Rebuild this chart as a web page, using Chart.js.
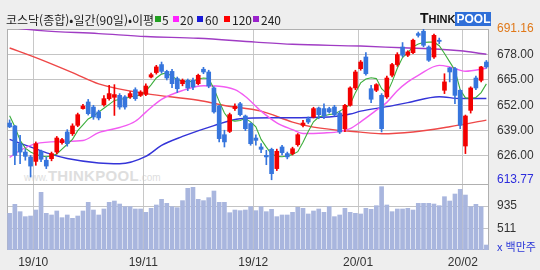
<!DOCTYPE html>
<html lang="ko">
<head>
<meta charset="utf-8">
<script src="https://cdn.jsdelivr.net/npm/chart.js@4.4.1/dist/chart.umd.min.js"></script>
<style>
  body { margin: 0; background: #eeeeee; }
  #wrap { position: relative; width: 540px; height: 270px; overflow: hidden; background: #eeeeee;
          font-family: "Noto Sans CJK KR", "Noto Sans", sans-serif; color: #222; }
  #plotbg { position: absolute; left: 7px; top: 29px; width: 482px; height: 221px; background: #fff; }
  #wm { position: absolute; left: 24px; top: 167px; color: #dedede; white-space: nowrap;
        font-family: "Liberation Sans", sans-serif; }
  #wm .big { font-weight: bold; font-size: 15px; letter-spacing: 0.3px; }
  #wm .sm { font-size: 10px; }
  canvas { position: absolute; left: 0; top: 0; }
  .t { position: absolute; top: 12px; font-size: 12px; line-height: 16px; white-space: nowrap; }
  .sq { position: absolute; top: 16px; width: 6px; height: 6px; }
  #logo { position: absolute; left: 420px; top: 12px; white-space: nowrap; font-family: "Liberation Sans", sans-serif;
          font-weight: bold; line-height: 12px; }
  #logo .k { color: #111; }
  #logo .p { background: #2f6fd8; color: #fff; font-size: 12px; padding: 0 1px; }
  #unit { position: absolute; left: 497px; top: 238px; font-size: 11px; color: #2a36d8; white-space: nowrap; }
</style>
</head>
<body>
<div id="wrap">
  <div id="plotbg"></div>
  <div id="wm"><span class="sm">www.</span><span class="big">THINKPOOL</span><span class="sm">.com</span></div>
  <canvas id="c" width="540" height="270"></canvas>
  <div class="t" style="left:6px">코스닥(종합)•일간(90일)•이평</div>
  <div class="sq" style="left:155px;background:#22a022"></div><div class="t" style="left:162px">5</div>
  <div class="sq" style="left:173px;background:#ff22ff"></div><div class="t" style="left:180px">20</div>
  <div class="sq" style="left:197px;background:#1a1ad8"></div><div class="t" style="left:205px">60</div>
  <div class="sq" style="left:224px;background:#ff0000"></div><div class="t" style="left:232px">120</div>
  <div class="sq" style="left:253px;background:#9a22cc"></div><div class="t" style="left:261px">240</div>
  <div id="logo"><span class="k" style="font-size:14px">T</span><span class="k" style="font-size:11px">HINK</span><span class="p">POOL</span></div>
  <div id="unit">x 백만주</div>
</div>
<script>
var monthNames = ["19/09", "19/10", "19/11", "19/12", "20/01", "20/02"];
var tradingDays = [
    [24, 25, 26, 27, 30],
    [1, 2, 4, 7, 8, 10, 11, 14, 15, 16, 17, 18, 21, 22, 23, 24, 25, 28, 29, 30, 31],
    [1, 4, 5, 6, 7, 8, 11, 12, 13, 14, 15, 18, 19, 20, 21, 22, 25, 26, 27, 28, 29],
    [2, 3, 4, 5, 6, 9, 10, 11, 12, 13, 16, 17, 18, 19, 20, 23, 24, 26, 27, 30],
    [2, 3, 6, 7, 8, 9, 10, 13, 14, 15, 16, 17, 20, 21, 22, 23, 28, 29, 30, 31],
    [3, 4, 5, 6, 7]
];

var opens = [642.9, 641.4, 632.3, 628.0, 625.5, 623.2, 628.4, 623.8, 624.6, 628.0,
    632.8, 638.3, 637.4, 641.7, 650.3, 653.7, 651.1, 648.6, 652.3, 655.4,
    656.1, 657.1, 656.3, 656.3, 660.0, 657.1, 657.6, 666.5, 668.8, 672.9,
    669.4, 669.4, 665.7, 663.1, 664.8, 664.8, 663.1, 670.5, 669.1, 660.9,
    651.6, 636.9, 638.6, 650.3, 652.8, 646.5, 642.6, 635.2, 630.6, 626.3,
    629.4, 619.5, 630.6, 627.2, 627.2, 631.8, 641.7, 645.1, 646.0, 650.6,
    650.3, 650.3, 651.1, 648.0, 639.9, 652.0, 660.9, 670.8, 676.8, 660.5,
    659.7, 657.1, 656.3, 667.4, 672.9, 681.9, 677.7, 679.0, 688.8, 690.0,
    681.9, 676.8, 685.4, 659.7, 671.2, 670.8, 659.7, 631.1, 649.4, 666.0,
    664.8, 674.2];
var highs = [644.5, 641.7, 636.6, 629.4, 626.3, 633.2, 629.0, 625.5, 628.0, 636.0,
    635.0, 639.5, 642.5, 648.0, 652.5, 655.0, 652.0, 649.5, 657.0, 662.3,
    662.6, 658.0, 657.0, 659.0, 661.0, 659.5, 663.0, 668.5, 672.5, 674.2,
    670.0, 670.5, 666.5, 665.5, 665.5, 666.0, 668.0, 671.5, 670.0, 661.5,
    652.0, 639.2, 648.0, 652.8, 653.5, 647.0, 643.0, 636.9, 632.3, 628.9,
    630.0, 629.5, 631.5, 628.0, 630.5, 637.5, 644.3, 646.0, 651.0, 651.1,
    652.8, 651.0, 652.0, 649.0, 652.5, 661.5, 670.0, 675.0, 679.0, 662.3,
    663.1, 658.0, 667.0, 673.5, 679.0, 684.2, 680.0, 686.0, 689.6, 691.16,
    682.5, 688.5, 686.5, 668.2, 671.5, 671.5, 660.0, 647.0, 661.5, 667.0,
    672.0, 675.0];
var lows = [640.5, 621.5, 622.0, 623.8, 615.2, 621.2, 623.0, 619.5, 623.5, 627.0,
    632.0, 631.0, 636.5, 641.0, 650.0, 647.0, 644.8, 644.5, 651.5, 654.6,
    646.8, 650.0, 650.0, 655.5, 654.5, 656.5, 657.0, 666.0, 668.0, 668.5,
    665.0, 661.0, 658.5, 662.0, 659.5, 660.0, 662.5, 668.2, 661.0, 648.0,
    633.2, 630.6, 638.0, 649.4, 646.5, 639.0, 631.5, 631.5, 627.7, 621.5,
    613.77, 618.5, 626.5, 624.5, 626.5, 631.0, 640.9, 642.6, 645.5, 645.1,
    645.1, 648.0, 646.5, 637.5, 638.5, 651.5, 660.0, 670.0, 667.5, 653.4,
    659.0, 638.3, 655.5, 666.5, 672.0, 676.8, 677.0, 678.5, 687.0, 682.0,
    674.5, 676.0, 683.6, 658.0, 664.0, 652.8, 640.0, 627.2, 648.0, 660.0,
    664.0, 671.0];
var closes = [640.9, 626.3, 628.0, 625.8, 620.8, 632.3, 624.3, 620.8, 627.2, 635.2,
    634.4, 632.3, 641.4, 647.2, 651.6, 647.7, 646.0, 645.5, 655.4, 658.0,
    657.5, 651.1, 651.1, 658.0, 655.4, 658.8, 661.9, 667.7, 671.7, 669.4,
    666.0, 663.1, 660.5, 664.8, 660.9, 661.4, 667.4, 669.1, 661.9, 648.6,
    634.9, 633.2, 647.2, 651.5, 647.2, 640.0, 632.3, 634.0, 629.4, 625.5,
    616.9, 628.4, 627.7, 625.5, 629.7, 636.9, 642.9, 643.4, 650.3, 647.2,
    646.5, 648.6, 647.2, 638.3, 652.0, 660.9, 669.1, 674.2, 668.2, 655.1,
    662.6, 640.0, 666.0, 672.9, 678.0, 677.7, 679.4, 685.4, 687.9, 682.8,
    675.1, 687.9, 684.8, 664.0, 669.1, 657.1, 641.7, 646.5, 660.9, 660.9,
    671.7, 671.7];

// volume, in millions of shares
var volumes = [798, 966, 829, 736, 748, 860, 1190, 798, 767, 842,
    717, 767, 705, 748, 842, 1004, 860, 767, 879, 1004,
    1028, 972, 923, 923, 879, 879, 817, 891, 954, 1060,
    985, 923, 904, 1035, 1265, 1284, 1060, 1035, 1091, 1215,
    1004, 1004, 810, 860, 848, 860, 923, 848, 923, 829,
    873, 736, 767, 767, 817, 910, 891, 786, 842, 879,
    817, 923, 736, 767, 891, 817, 798, 786, 891, 873,
    941, 1296, 954, 829, 879, 879, 891, 860, 985, 985,
    985, 972, 941, 1109, 1028, 1159, 1246, 1140, 923, 966,
    923, 206];

// moving averages
var ma5 = [646.6, 641, 634, 630, 628, 626.8, 626, 625.6, 626, 627,
    629.5, 632, 634.5, 639, 642, 645, 646.5, 648.5, 650.5, 652.5,
    654.5, 655, 655.5, 656.3, 656.8, 657.2, 659.3, 662.5, 666, 668,
    668.7, 666.8, 665.3, 664.3, 664, 664.4, 665.5, 666, 665.7, 660.5,
    654, 648, 644.5, 643.9, 644.2, 645.2, 643.5, 641, 634.5, 630.5,
    627, 625.8, 625.6, 626, 626.8, 628.2, 633, 638.5, 643.5, 646,
    646.6, 647.3, 647.6, 649, 650.5, 652.5, 658.5, 663.5, 665.5, 666.1,
    665.7, 660.5, 658, 664, 671, 676.5, 679, 682, 683.5, 684.2,
    684.4, 684.4, 682.6, 678.6, 674.3, 670, 660, 655.8, 655.5, 656,
    658.5, 663];
var ma20Idx = [0, 2, 5, 10, 14, 17, 21, 24, 26, 29, 33, 37, 40, 43, 45, 48, 51, 54, 56, 60, 63, 65, 67, 70, 72, 74, 76, 78, 82, 84, 87, 91];
var ma20Val = [625.3, 628.8, 632.3, 633.4, 633.9, 638, 640.6, 643.8, 648.5, 655, 659.6, 662, 661.8, 660, 656.5, 649, 643, 639.5, 637.5, 637.8, 638.5, 640, 643.5, 649.5, 653.5, 659.5, 664, 667.4, 672.5, 671.7, 669.5, 671];
var ma60Idx = [0, 5, 8, 11, 17, 21, 26, 29, 33, 39, 44, 51, 61, 65, 67, 72, 76, 82, 86, 91];
var ma60Val = [634.5, 629.6, 626.8, 624.7, 622.4, 622, 625.8, 631.4, 636, 641.6, 645.1, 645.6, 646, 647.5, 649, 651.3, 653.4, 656.4, 655.5, 655.5];
var ma120Idx = [0, 5, 12, 17, 26, 36, 41, 48, 54, 58, 67, 71, 77, 84, 91];
var ma120Val = [681.4, 676.5, 668.8, 663, 658, 654.6, 651.9, 649, 643.4, 640.8, 638.2, 637.4, 638.3, 641, 644.4];
var ma240Idx = [0, 6, 17, 26, 36, 47, 54, 67, 75, 82, 86, 89, 91];
var ma240Val = [692.0, 690.3, 688.8, 687.3, 686.4, 684.4, 683.3, 682.4, 681.5, 680.8, 680.0, 679.0, 678.2];

var priceTicks = [613.77, 626, 639, 652, 665, 678, 691.16];
var volumeTicks = [511, 935];

// build date labels and the month start positions
var dates = [];
var monthStart = {};
monthNames.forEach(function (m, k) {
    tradingDays[k].forEach(function (d, j) {
        if (j === 0 && k > 0) {
            monthStart[dates.length] = m;
        }
        dates.push(m + "/" + (d < 10 ? "0" + d : d));
    });
});

function sparse(idx, vals) {
    var arr = dates.map(function () { return null; });
    idx.forEach(function (k, j) { arr[k] = vals[j]; });
    return arr;
}

var candleColors = closes.map(function (c, i) {
    return c >= opens[i] ? "#f20000" : "#3675dd";
});

function maLine(data, color, width, tension) {
    return {
        type: "line",
        data: data,
        borderColor: color,
        borderWidth: width,
        pointRadius: 0,
        spanGaps: true,
        tension: tension,
        cubicInterpolationMode: tension ? "monotone" : "default",
        yAxisID: "y",
        order: 2,
    };
}

var frame = {
    id: "frame",
    beforeDatasetsDraw: function (chart) {
        var c = chart.ctx, a = chart.chartArea;
        c.save();
        c.strokeStyle = "#b0b0b0";
        c.lineWidth = 1;
        c.strokeRect(a.left + 0.5, a.top + 0.5, a.right - a.left - 1, a.bottom - a.top - 1);
        var sep = Math.round(chart.scales.y.bottom) + 0.5;
        c.beginPath();
        c.moveTo(a.left, sep);
        c.lineTo(a.right, sep);
        c.stroke();
        c.restore();
    }
};

var axisFont = { family: "'Liberation Sans Narrow', 'Liberation Sans', sans-serif", size: 12 };

var ctx = document.getElementById("c").getContext("2d");
var myChart = new Chart(ctx, {
    type: "bar",
    data: {
        labels: dates,
        datasets: [
            {
                type: "bar",
                data: opens.map(function (o, i) { return [o, closes[i]]; }),
                backgroundColor: candleColors,
                barThickness: 4,
                minBarLength: 1,
                grouped: false,
                yAxisID: "y",
                order: 0,
            },
            {
                type: "bar",
                data: lows.map(function (l, i) { return [l, highs[i]]; }),
                backgroundColor: candleColors,
                barThickness: 1,
                grouped: false,
                yAxisID: "y",
                order: 1,
            },
            maLine(ma5, "#3cae3c", 1.1, 0),
            maLine(sparse(ma20Idx, ma20Val), "#f25cf2", 1.4, 0.4),
            maLine(sparse(ma60Idx, ma60Val), "#3434d8", 1.4, 0.4),
            maLine(sparse(ma120Idx, ma120Val), "#ee4848", 1.4, 0.4),
            maLine(sparse(ma240Idx, ma240Val), "#a03cc4", 1.4, 0.4),
            {
                type: "bar",
                data: volumes,
                backgroundColor: "#a9b6de",
                borderWidth: 0,
                barThickness: 4,
                grouped: false,
                yAxisID: "yv",
                order: 3,
            },
        ],
    },
    options: {
        responsive: false,
        animation: false,
        devicePixelRatio: 1,
        layout: { padding: { left: 7, top: 29, right: 0, bottom: 0 } },
        plugins: {
            legend: { display: false },
            tooltip: { enabled: false },
        },
        scales: {
            x: {
                type: "category",
                offset: true,
                border: { display: false },
                grid: {
                    offset: true,
                    drawTicks: false,
                    color: function (c) {
                        return monthStart[c.index] ? "#c8c8c8" : "rgba(0,0,0,0)";
                    },
                },
                ticks: {
                    autoSkip: false,
                    maxRotation: 0,
                    padding: 5,
                    labelOffset: -2.6,
                    color: "#333",
                    font: axisFont,
                    callback: function (v, i) {
                        return monthStart[i] || "";
                    },
                },
                afterFit: function (s) { s.height = 20; },
            },
            y: {
                type: "linear",
                position: "right",
                stack: "panels",
                stackWeight: 155,
                min: 611.6,
                max: 691.16,
                border: { display: false },
                grid: {
                    drawTicks: false,
                    color: function (c) {
                        var v = c.tick && c.tick.value;
                        return v === 613.77 || v === 691.16 ? "rgba(0,0,0,0)" : "#c4c4c4";
                    },
                },
                afterBuildTicks: function (s) {
                    s.ticks = priceTicks.map(function (v) { return { value: v }; });
                },
                afterFit: function (s) { s.width = 51; },
                ticks: {
                    autoSkip: false,
                    padding: 8,
                    font: axisFont,
                    color: function (c) {
                        var v = c.tick && c.tick.value;
                        if (v === 691.16) return "#e07818";
                        if (v === 613.77) return "#2c2cdc";
                        return "#333";
                    },
                    callback: function (v) { return v.toFixed(2); },
                },
            },
            yv: {
                type: "linear",
                position: "right",
                stack: "panels",
                stackWeight: 66,
                min: 113,
                max: 1346,
                border: { display: false },
                grid: { drawTicks: false, color: "#c4c4c4" },
                afterBuildTicks: function (s) {
                    s.ticks = volumeTicks.map(function (v) { return { value: v }; });
                },
                afterFit: function (s) { s.width = 51; },
                ticks: {
                    autoSkip: false,
                    padding: 8,
                    font: axisFont,
                    color: "#333",
                    callback: function (v) { return String(v); },
                },
            },
        },
    },
    plugins: [frame],
});
</script>
</body>
</html>
